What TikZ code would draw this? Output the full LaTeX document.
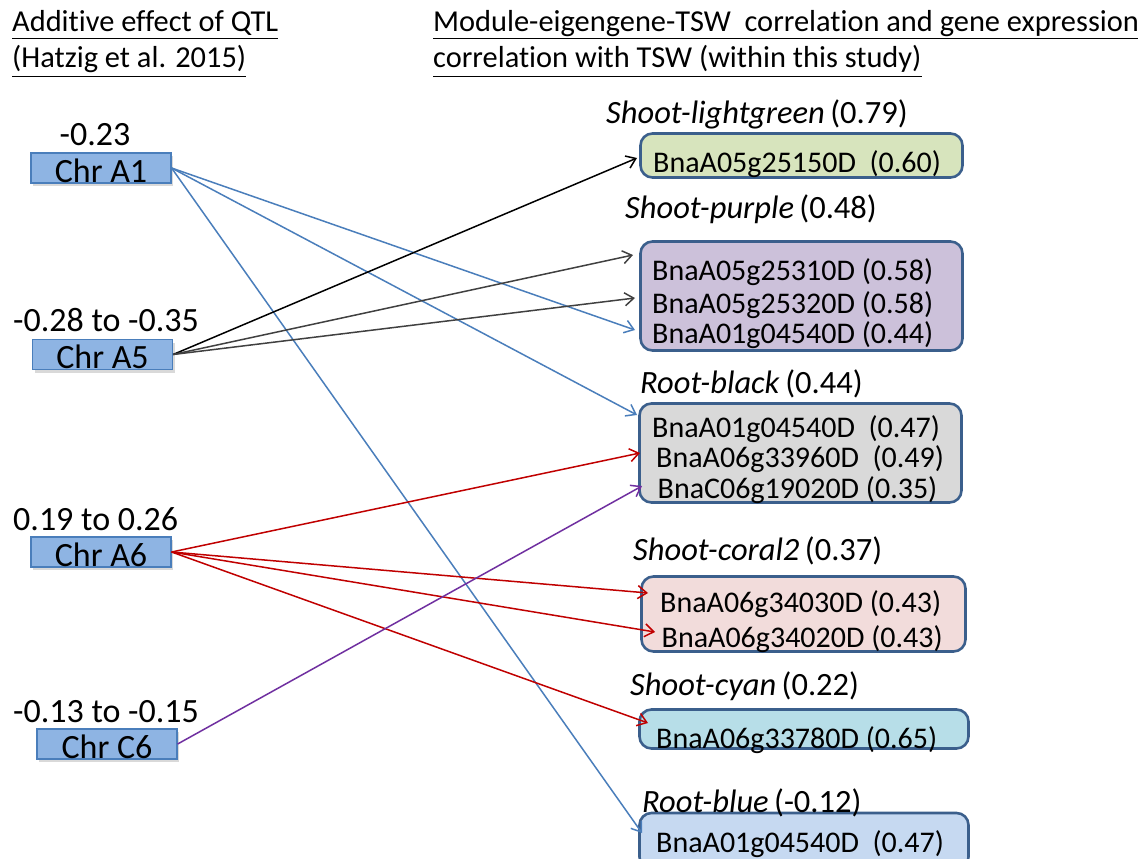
\documentclass[tikz,border=0pt]{standalone}
\usepackage{fontspec}
\setmainfont{Carlito}[Ligatures={NoCommon}]
\usetikzlibrary{arrows.meta,shadows}
\newcommand\ulx[2][7pt]{\setbox0\hbox{#2}\rlap{\rule[-#1]{\wd0}{1.3pt}}\box0}
\definecolor{chrfill}{HTML}{8EB4E3}
\definecolor{chrdraw}{HTML}{4A7EBB}
\definecolor{boxdraw}{HTML}{3B5F8C}
\definecolor{lgfill}{HTML}{D7E4BD}
\definecolor{pufill}{HTML}{CCC1DA}
\definecolor{bkfill}{HTML}{D9D9D9}
\definecolor{cofill}{HTML}{F2DCDB}
\definecolor{cyfill}{HTML}{B7DEE8}
\definecolor{blfill}{HTML}{C6D9F1}
\definecolor{ablue}{HTML}{4A7EBB}
\definecolor{agray}{HTML}{404040}
\definecolor{ared}{HTML}{C00000}
\definecolor{apurple}{HTML}{7030A0}
\begin{document}
\begin{tikzpicture}[x=1pt,y=-1pt,
  chrbox/.style={draw=chrdraw, fill=chrfill, line width=1.2pt, minimum width=140pt,
    minimum height=30pt, inner sep=0pt, text height=22pt, text depth=0pt,
    font=\fontsize{34}{40}\selectfont,
    drop shadow={shadow xshift=2pt, shadow yshift=-3pt, opacity=0.3}},
  genebox/.style={draw=boxdraw, line width=2.6pt, rounded corners=12pt, inner sep=0pt},
  gene/.style={anchor=base west, inner sep=0pt, font=\fontsize{30}{36}\selectfont},
  ttl/.style={anchor=base west, inner sep=0pt, font=\fontsize{32.5}{40}\selectfont},
  lab/.style={anchor=base west, inner sep=0pt, font=\fontsize{34}{40}\selectfont},
  head/.style={anchor=base west, inner sep=0pt, font=\fontsize{30.4}{36}\selectfont},
  conn/.style={line width=1.5pt, -{Straight Barb[length=9pt,width=13pt,line width=1.5pt]}}
]
\useasboundingbox (0,0) rectangle (1138,859);
% headers
\node[head] (h1) at (12,32) {\ulx{Additive effect of QTL}};
\node[head] (h2) at (12,68) {\ulx[9pt]{(Hatzig et al. 2015)}};
\node[head] (h3) at (433,32) {\ulx{Module-eigengene-TSW\ \ correlation and gene expression}};
\node[head] (h4) at (433,68) {\ulx[9pt]{correlation with TSW (within this study)}};

% chromosome boxes
\node[chrbox] (a1) at (101,168) {\raisebox{-3pt}{Chr A1}};
\node[chrbox] (a5) at (102.5,354.5) {\raisebox{-3pt}{Chr A5}};
\node[chrbox] (a6) at (101,552) {\raisebox{-3pt}{Chr A6}};
\node[chrbox] (c6) at (107,744) {\raisebox{-3pt}{Chr C6}};
\node[lab, anchor=base] (la1) at (95,145) {-0.23};
\node[lab] (la5) at (13,331) {-0.28 to -0.35};
\node[lab] (la6) at (13,530) {0.19 to 0.26};
\node[lab] (lc6) at (13,722) {-0.13 to -0.15};

% module boxes
\node[genebox, fill=lgfill, minimum width=322pt, minimum height=44pt] (lg) at (801.5,155.5) {};
\node[genebox, fill=pufill, minimum width=322pt, minimum height=109pt] (pu) at (801.5,296) {};
\node[genebox, fill=bkfill, minimum width=322pt, minimum height=99pt] (bk) at (800.5,453) {};
\node[genebox, fill=cofill, minimum width=324pt, minimum height=75pt] (co) at (803.5,614) {};
\node[genebox, fill=cyfill, minimum width=329pt, minimum height=39pt] (cy) at (804,729) {};
\node[genebox, fill=blfill, minimum width=329pt, minimum height=56pt] (bl) at (804,841) {};

% titles
\node[ttl] (tlg) at (606,123) {\textit{Shoot-lightgreen}\,(0.79)};
\node[ttl] (tpu) at (625,218) {\textit{Shoot-purple}\,(0.48)};
\node[ttl] (tbk) at (640,393) {\textit{Root-black}\,(0.44)};
\node[ttl] (tco) at (633,560) {\textit{Shoot-coral2}\,(0.37)};
\node[ttl] (tcy) at (630,695) {\textit{Shoot-cyan}\,(0.22)};
\node[ttl] (tbl) at (642,812) {\textit{Root-blue}\,(-0.12)};

% genes
\node[gene] (g1) at (653,172) {BnaA05g25150D\ \ (0.60)};
\node[gene] (g2) at (652,280) {BnaA05g25310D (0.58)};
\node[gene] (g3) at (652,313) {BnaA05g25320D (0.58)};
\node[gene] (g4) at (652,343) {BnaA01g04540D (0.44)};
\node[gene] (g5) at (652,437) {BnaA01g04540D\ \ (0.47)};
\node[gene] (g6) at (656,467) {BnaA06g33960D\ \ (0.49)};
\node[gene] (g7) at (657.5,498) {BnaC06g19020D (0.35)};
\node[gene] (g8) at (660,612) {BnaA06g34030D (0.43)};
\node[gene] (g9) at (661.5,647) {BnaA06g34020D (0.43)};
\node[gene] (g10) at (656,748) {BnaA06g33780D (0.65)};
\node[gene] (g11) at (656,852) {BnaA01g04540D\ \ (0.47)};

% arrow tips
\coordinate (tLg) at (637,158);
\coordinate (tP1) at (633,255);
\coordinate (tP2) at (635,298);
\coordinate (tP3) at (635,330);
\coordinate (tB1) at (637,415);
\coordinate (tB2) at (640,453);
\coordinate (tB3) at (642,486);
\coordinate (tC1) at (648,593);
\coordinate (tC2) at (655,632);
\coordinate (tCy) at (648,723);
\coordinate (tBl) at (642,833);

% connectors
\draw[conn, ablue] (a1.east) -- (tP3);
\draw[conn, ablue] (a1.east) -- (tB1);
\draw[conn, ablue] (a1.east) -- (tBl);
\draw[conn, black] (a5.east) -- (tLg);
\draw[conn, agray] (a5.east) -- (tP1);
\draw[conn, agray] (a5.east) -- (tP2);
\draw[conn, ared] (a6.east) -- (tB2);
\draw[conn, ared] (a6.east) -- (tC1);
\draw[conn, ared] (a6.east) -- (tC2);
\draw[conn, ared] (a6.east) -- (tCy);
\draw[conn, apurple] (c6.east) -- (tB3);
\end{tikzpicture}
\end{document}
